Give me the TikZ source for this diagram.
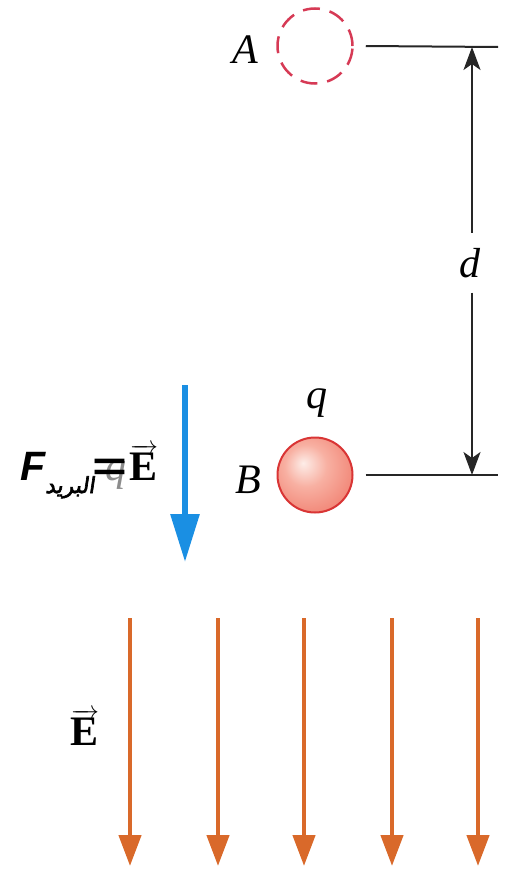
\documentclass[tikz,border=0pt]{standalone}
\usepackage{fontspec}
\setmainfont{Liberation Serif}
\newfontfamily\arial{Liberation Sans}
\newfontfamily\arabicfont[Script=Arabic,FakeBold=3,FakeSlant=0.15]{DejaVu Sans}
\TeXXeTstate=1
\usetikzlibrary{arrows.meta,calc}
\definecolor{dashred}{HTML}{D63A55}
\definecolor{ballhi}{HTML}{FDEDE8}
\definecolor{ballmid}{HTML}{F8B0A2}
\definecolor{balledge}{HTML}{EF7565}
\definecolor{ballline}{HTML}{D93535}
\definecolor{fblue}{HTML}{1A8FE3}
\definecolor{forange}{HTML}{D9692A}
\pgfdeclareradialshading{ballB}{\pgfpoint{-8bp}{8bp}}{color(0bp)=(ballhi); color(14bp)=(ballmid); color(38bp)=(balledge); color(60bp)=(balledge)}
\newcommand{\myvecE}{$\overrightarrow{\textbf{E}}$}
\tikzset{
  lbl/.style={font=\fontsize{42}{42}\selectfont\itshape, inner sep=0pt, anchor=base},
  vlbl/.style={font=\fontsize{42}{42}\selectfont, inner sep=0pt, anchor=base},
  ln/.style={line width=2pt, black!85},
  dimarr/.style={line width=2pt, black!85, -{Stealth[length=23pt, width=17pt, inset=6pt]}},
  fieldarr/.style={line width=4.5pt, forange, -{Triangle[length=31pt, width=22pt]}},
  forcearr/.style={line width=6pt, fblue, -{Triangle[length=48pt, width=28pt]}}
}
\begin{document}
\begin{tikzpicture}[x=1pt,y=-1pt]
\useasboundingbox (0,0) rectangle (512,870);
% charge positions
\node[circle, draw=dashred, line width=2.5pt, dash pattern=on 17pt off 10pt, minimum size=75pt, inner sep=0pt] (cA) at (315,46) {};
\node[circle, draw=ballline, line width=2pt, shading=ballB, minimum size=75pt, inner sep=0pt] (cB) at (315,475) {};
\node[lbl] (lA) at (245,63) {A};
\node[lbl] (lB) at (248,493) {B};
\node[lbl] (lq) at (317,408) {q};
% reference lines
\coordinate (Aend) at (498,47);
\coordinate (Bend) at (498,475);
\draw[ln] ($(cA.east)+(12,0)$) -- (Aend);
\draw[ln] ($(cB.east)+(12,0)$) -- (Bend);
% dimension d
\coordinate (dtop) at (472,47);
\coordinate (dbot) at (472,475);
\node[lbl, inner ysep=15pt] (dl) at (470,277) {d};
\draw[dimarr] (dl.north -| dtop) -- (dtop);
\draw[dimarr] (dl.south -| dbot) -- (dbot);
% force arrow
\coordinate (Ftop) at (185,385);
\coordinate (Ftip) at (185,562);
\draw[forcearr] (Ftop) -- (Ftip);
\node[vlbl] (qE) at (132,480) {\textcolor{black!45}{\itshape q}\hspace{3pt}\myvecE};
\node[inner sep=0pt, anchor=base west] (Flbl) at (20,480) {\arial\fontsize{41}{41}\selectfont\bfseries\itshape F\raisebox{-13pt}{\arabicfont\mdseries\upshape\fontsize{22}{22}\selectfont\beginR البريد\endR}\hspace{-3pt}\scalebox{1.45}[1]{=}};
% field lines
\foreach \i/\x in {1/130,2/218,3/304,4/392,5/478}{
  \coordinate (t\i) at (\x,618);
  \coordinate (b\i) at (\x,866);
  \draw[fieldarr] (t\i) -- (b\i);
}
\node[vlbl] (lE) at (85,745) {\myvecE};
\end{tikzpicture}
\end{document}
